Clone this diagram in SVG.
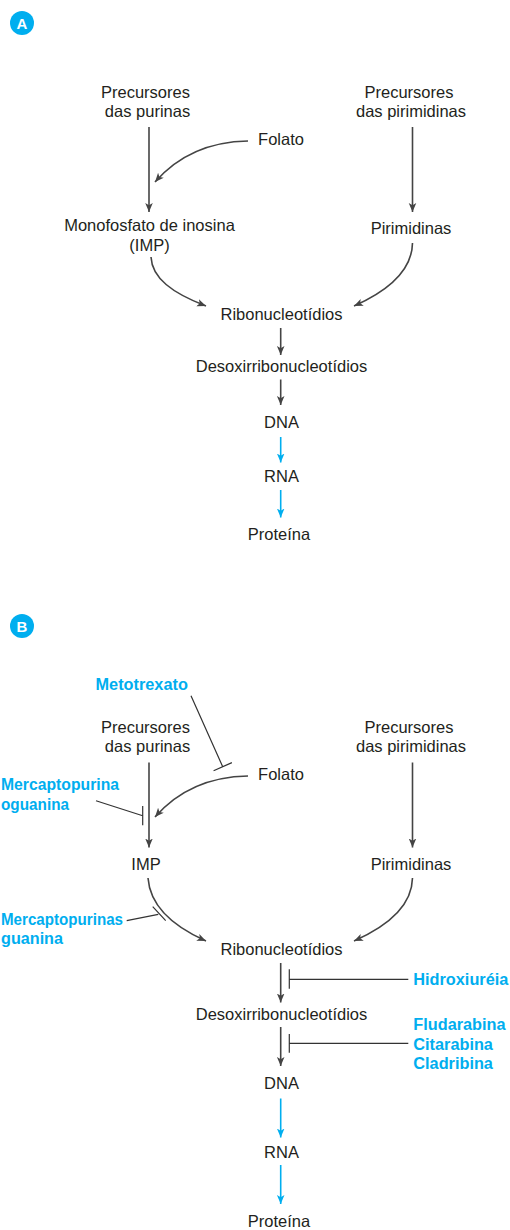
<svg xmlns="http://www.w3.org/2000/svg" width="510" height="1230" viewBox="0 0 510 1230">
  <style>
    .lbl { font-family: "Liberation Sans", Arial, sans-serif; font-size: 16.5px; fill: #231f20; text-anchor: middle; }
    .drug { font-family: "Liberation Sans", Arial, sans-serif; font-size: 16.3px; font-weight: bold; fill: #00aeef; }
    .badge { fill: #00aeef; }
    .badge-t { font-family: "Liberation Sans", Arial, sans-serif; font-size: 15px; font-weight: bold; fill: #ffffff; text-anchor: middle; }
    .flow { fill: none; stroke: #444444; stroke-width: 1.6; marker-end: url(#ah); }
    .flow-b { fill: none; stroke: #00aeef; stroke-width: 1.6; marker-end: url(#ahb); }
    .inh { fill: none; stroke: #333333; stroke-width: 1.2; }
  </style>
  <defs>
    <marker id="ah" viewBox="0 0 10 10" refX="10" refY="5" markerWidth="9" markerHeight="9" markerUnits="userSpaceOnUse" orient="auto">
      <path d="M0,0.8 L10,5 L0,9.2 L2.5,5 z" fill="#444444"/>
    </marker>
    <marker id="ahb" viewBox="0 0 10 10" refX="10" refY="5" markerWidth="9" markerHeight="9" markerUnits="userSpaceOnUse" orient="auto">
      <path d="M0,0.8 L10,5 L0,9.2 L2.5,5 z" fill="#00aeef"/>
    </marker>
  </defs>

  <!-- Panel A -->
  <g id="badge-a">
    <circle class="badge" cx="22" cy="23" r="12"/>
    <text class="badge-t" x="22" y="28.5">A</text>
  </g>
  <g id="a-prec-purinas">
    <text class="lbl" x="145.5" y="98">Precursores</text>
    <text class="lbl" x="147.5" y="117">das purinas</text>
  </g>
  <g id="a-prec-pirimidinas">
    <text class="lbl" x="409" y="98">Precursores</text>
    <text class="lbl" x="411" y="117">das pirimidinas</text>
  </g>
  <g id="a-folato"><text class="lbl" x="281" y="145">Folato</text></g>
  <g id="a-imp">
    <text class="lbl" x="149.5" y="230.5">Monofosfato de inosina</text>
    <text class="lbl" x="149.5" y="250.5">(IMP)</text>
  </g>
  <g id="a-pirimidinas"><text class="lbl" x="411" y="234">Pirimidinas</text></g>
  <g id="a-ribo"><text class="lbl" x="281.5" y="320">Ribonucleotídios</text></g>
  <g id="a-desoxi"><text class="lbl" x="281.5" y="372">Desoxirribonucleotídios</text></g>
  <g id="a-dna"><text class="lbl" x="281.5" y="428">DNA</text></g>
  <g id="a-rna"><text class="lbl" x="281.5" y="482">RNA</text></g>
  <g id="a-proteina"><text class="lbl" x="279" y="540">Proteína</text></g>

  <g id="a-connectors">
    <line class="flow" x1="149" y1="127" x2="149" y2="212"/>
    <path class="flow" d="M248,141 Q190,142 155,182"/>
    <line class="flow" x1="412.5" y1="127" x2="412.5" y2="212"/>
    <path class="flow" d="M151,257 C152,278 172,293 206,306"/>
    <path class="flow" d="M412.5,243 C412,270 390,290 354,306"/>
    <line class="flow" x1="280.7" y1="328" x2="280.7" y2="355"/>
    <line class="flow" x1="280.7" y1="379.5" x2="280.7" y2="405"/>
    <line class="flow-b" x1="280.7" y1="437" x2="280.7" y2="462.5"/>
    <line class="flow-b" x1="280.7" y1="490" x2="280.7" y2="517.5"/>
  </g>

  <!-- Panel B -->
  <g id="badge-b">
    <circle class="badge" cx="22" cy="626" r="12"/>
    <text class="badge-t" x="22" y="631.5">B</text>
  </g>
  <g id="b-metotrexato"><text class="drug" x="141.7" y="690" text-anchor="middle">Metotrexato</text></g>
  <g id="b-prec-purinas">
    <text class="lbl" x="145.5" y="733">Precursores</text>
    <text class="lbl" x="147.5" y="752">das purinas</text>
  </g>
  <g id="b-prec-pirimidinas">
    <text class="lbl" x="409" y="733">Precursores</text>
    <text class="lbl" x="411" y="752">das pirimidinas</text>
  </g>
  <g id="b-folato"><text class="lbl" x="281" y="780">Folato</text></g>
  <g id="b-mercapto-1">
    <text class="drug" x="1" y="790" textLength="118" lengthAdjust="spacingAndGlyphs">Mercaptopurina</text>
    <text class="drug" x="1" y="810" textLength="68" lengthAdjust="spacingAndGlyphs">oguanina</text>
  </g>
  <g id="b-imp"><text class="lbl" x="146" y="870">IMP</text></g>
  <g id="b-pirimidinas"><text class="lbl" x="411" y="870">Pirimidinas</text></g>
  <g id="b-mercapto-2">
    <text class="drug" x="1" y="925" textLength="122" lengthAdjust="spacingAndGlyphs">Mercaptopurinas</text>
    <text class="drug" x="1" y="943.5" textLength="62" lengthAdjust="spacingAndGlyphs">guanina</text>
  </g>
  <g id="b-ribo"><text class="lbl" x="281.5" y="955">Ribonucleotídios</text></g>
  <g id="b-hidroxiureia"><text class="drug" x="413.3" y="985">Hidroxiuréia</text></g>
  <g id="b-desoxi"><text class="lbl" x="281.5" y="1020">Desoxirribonucleotídios</text></g>
  <g id="b-analogos">
    <text class="drug" x="413.3" y="1030">Fludarabina</text>
    <text class="drug" x="413.3" y="1049.5">Citarabina</text>
    <text class="drug" x="413.3" y="1069">Cladribina</text>
  </g>
  <g id="b-dna"><text class="lbl" x="281.5" y="1089">DNA</text></g>
  <g id="b-rna"><text class="lbl" x="281.5" y="1157.5">RNA</text></g>
  <g id="b-proteina"><text class="lbl" x="279" y="1227">Proteína</text></g>

  <g id="b-connectors">
    <line class="flow" x1="149" y1="762.5" x2="149" y2="847.5"/>
    <path class="flow" d="M248,776 Q190,777 155,817"/>
    <line class="flow" x1="412.5" y1="762.5" x2="412.5" y2="847.5"/>
    <path class="flow" d="M148,878 C150,905 170,925 206,941"/>
    <path class="flow" d="M412.5,878 C412,905 390,925 354,941"/>
    <line class="flow" x1="280.7" y1="963" x2="280.7" y2="1002.5"/>
    <line class="flow" x1="280.7" y1="1027" x2="280.7" y2="1066"/>
    <line class="flow-b" x1="280.7" y1="1098.5" x2="280.7" y2="1137.5"/>
    <line class="flow-b" x1="280.7" y1="1165" x2="280.7" y2="1204"/>
    <!-- inhibition bars -->
    <path class="inh" d="M191,695.7 L222.7,766.7 M213.6,770.8 L231.9,762.6"/>
    <path class="inh" d="M96,800.7 L142.7,815.7 M142.7,806 L142.7,825.3"/>
    <path class="inh" d="M126.7,920.7 L158.3,914.3 M152.7,906.7 L165.7,920.7"/>
    <path class="inh" d="M408.3,979.3 L289.3,979.3 M289.3,969.3 L289.3,988.7"/>
    <path class="inh" d="M408.3,1043.3 L289.3,1043.3 M289.3,1034 L289.3,1052.7"/>
  </g>
</svg>
